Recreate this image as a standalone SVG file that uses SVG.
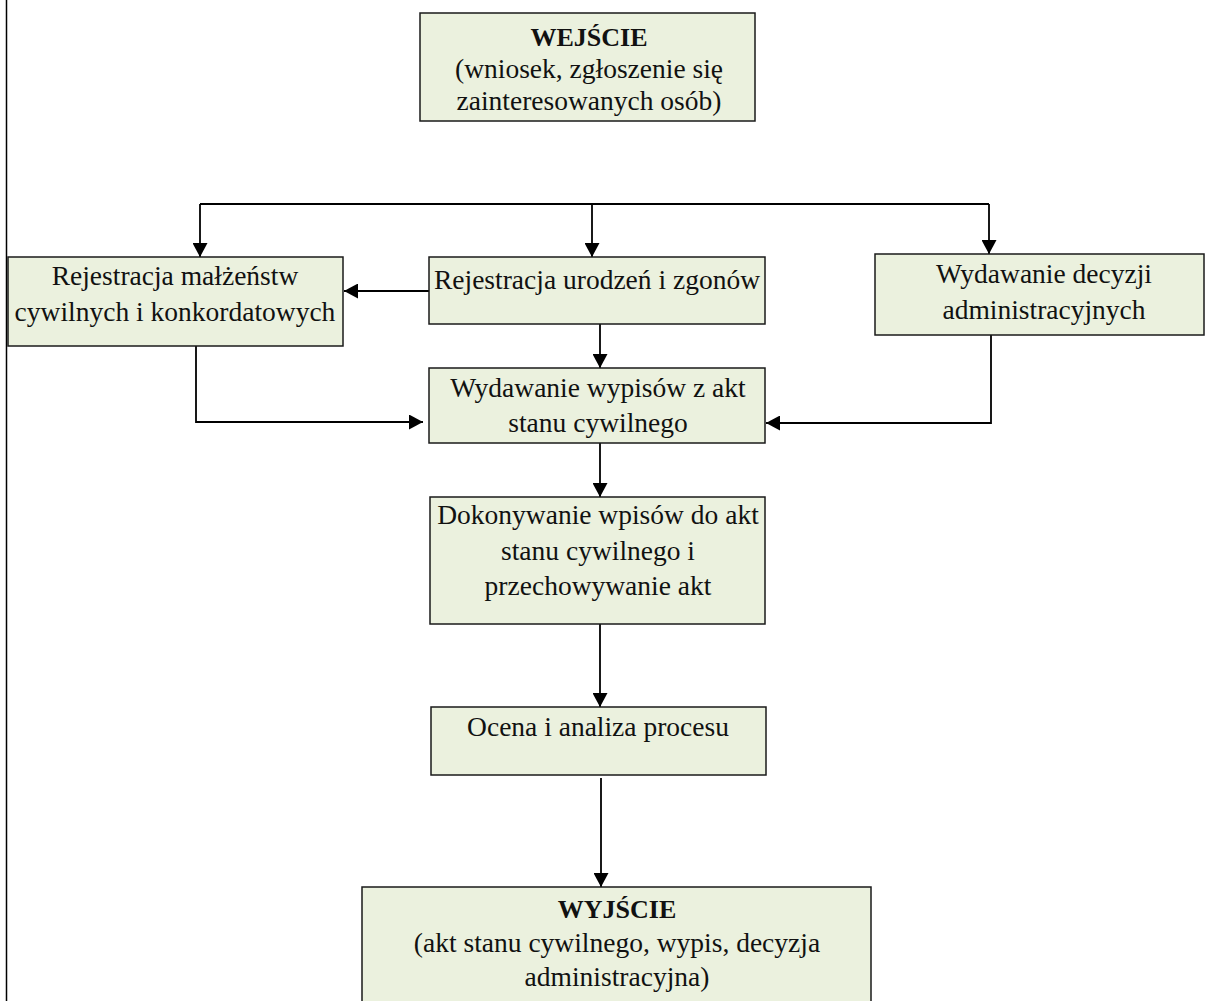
<svg xmlns="http://www.w3.org/2000/svg" width="1205" height="1001" viewBox="0 0 1205 1001">
<style>
.box{fill:#EBF1DE;stroke:#1a1a1a;stroke-width:1.5}
.t{font-family:"Liberation Serif","DejaVu Serif",serif;font-size:27.5px;fill:#111;text-anchor:middle}
.b{font-weight:bold;font-size:26px}
.c{fill:none;stroke:#000;stroke-width:1.8}
</style>
<defs>
<marker id="ah" markerUnits="userSpaceOnUse" markerWidth="15" markerHeight="15" refX="14" refY="7.5" orient="auto">
<path d="M0,0 L14,7.5 L0,15 z" fill="#000"/>
</marker>
</defs>
<rect width="1205" height="1001" fill="#fff"/>
<line x1="6.5" y1="0" x2="6.5" y2="1001" stroke="#000" stroke-width="1.5"/>
<g id="connectors">
<line class="c" x1="200" y1="204" x2="989" y2="204"/>
<line class="c" x1="200" y1="204" x2="200" y2="257" marker-end="url(#ah)"/>
<line class="c" x1="592" y1="204" x2="592" y2="257" marker-end="url(#ah)"/>
<line class="c" x1="989" y1="204" x2="989" y2="254" marker-end="url(#ah)"/>
<line class="c" x1="429" y1="291" x2="344" y2="291" marker-end="url(#ah)"/>
<line class="c" x1="600" y1="324" x2="600" y2="368" marker-end="url(#ah)"/>
<polyline class="c" points="196,346 196,422 423,422" marker-end="url(#ah)"/>
<polyline class="c" points="991,335 991,423 766,423" marker-end="url(#ah)"/>
<line class="c" x1="600" y1="443" x2="600" y2="497" marker-end="url(#ah)"/>
<line class="c" x1="600" y1="621" x2="600" y2="707" marker-end="url(#ah)"/>
<line class="c" x1="601" y1="778" x2="601" y2="887" marker-end="url(#ah)"/>
</g>
<g id="wejscie">
<rect class="box" x="420" y="13" width="335" height="108"/>
<text class="t b" x="589" y="46">WEJŚCIE</text>
<text class="t" x="589" y="78">(wniosek, zgłoszenie się</text>
<text class="t" x="589" y="110">zainteresowanych osób)</text>
</g>
<g id="malzenstwa">
<rect class="box" x="8" y="257" width="335" height="89"/>
<text class="t" x="175" y="285">Rejestracja małżeństw</text>
<text class="t" x="175" y="321">cywilnych i konkordatowych</text>
</g>
<g id="urodzenia">
<rect class="box" x="429" y="257" width="336" height="67"/>
<text class="t" x="597" y="289">Rejestracja urodzeń i zgonów</text>
</g>
<g id="decyzje">
<rect class="box" x="875" y="254" width="329" height="81"/>
<text class="t" x="1044" y="283">Wydawanie decyzji</text>
<text class="t" x="1044" y="319">administracyjnych</text>
</g>
<g id="wypisy">
<rect class="box" x="429" y="368" width="336" height="75"/>
<text class="t" x="598" y="397">Wydawanie wypisów z akt</text>
<text class="t" x="598" y="432">stanu cywilnego</text>
</g>
<g id="wpisy">
<rect class="box" x="430" y="497" width="335" height="127"/>
<text class="t" x="598" y="524">Dokonywanie wpisów do akt</text>
<text class="t" x="598" y="560">stanu cywilnego i</text>
<text class="t" x="598" y="595">przechowywanie akt</text>
</g>
<g id="ocena">
<rect class="box" x="431" y="707" width="335" height="68"/>
<text class="t" x="598" y="736">Ocena i analiza procesu</text>
</g>
<g id="wyjscie">
<rect class="box" x="362" y="887" width="509" height="120"/>
<text class="t b" x="617" y="918">WYJŚCIE</text>
<text class="t" x="617" y="952">(akt stanu cywilnego, wypis, decyzja</text>
<text class="t" x="617" y="986">administracyjna)</text>
</g>
</svg>
